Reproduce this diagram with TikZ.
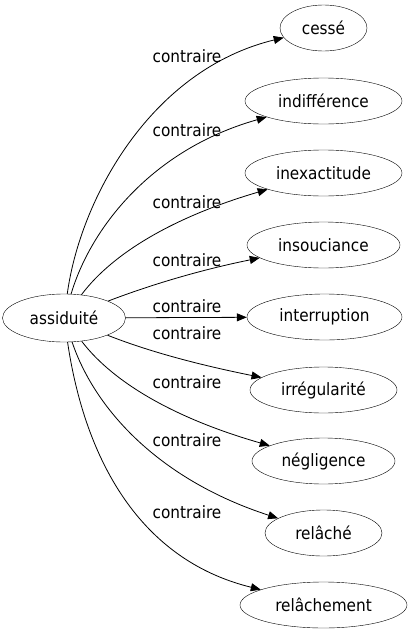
\documentclass[tikz,border=0pt]{standalone}
\usepackage{fontspec}
\setmainfont{DejaVu Sans Condensed}
\usetikzlibrary{arrows.meta,shapes.geometric}
\begin{document}
\begin{tikzpicture}[x=1pt,y=-1pt,
  nd/.style={draw,ellipse,inner sep=0pt,minimum height=46pt,font=\fontsize{17}{20}\selectfont},
  lab/.style={font=\fontsize{17}{20}\selectfont,inner sep=0pt},
  edge/.style={-{Triangle[length=10pt,width=8pt]},line width=0.8pt}]
\useasboundingbox (0,0) rectangle (412,635);
\node[nd,minimum width=123pt,minimum height=48pt] (a) at (64,318) {assiduité};
\node[nd,minimum width=87pt] (t1) at (323.5,28) {cessé};
\node[nd,minimum width=157pt] (t2) at (323.5,101) {indifférence};
\node[nd,minimum width=157pt] (t3) at (323.5,173) {inexactitude};
\node[nd,minimum width=153pt] (t4) at (323.5,245) {insouciance};
\node[nd,minimum width=155pt] (t5) at (324.5,317) {interruption};
\node[nd,minimum width=147pt] (t6) at (323.5,390) {irrégularité};
\node[nd,minimum width=143pt] (t7) at (323.5,461) {négligence};
\node[nd,minimum width=117pt] (t8) at (323.5,533) {relâché};
\node[nd,minimum width=167pt] (t9) at (323.5,605) {relâchement};
\draw[edge] (a) .. controls (80,200) and (150,70) .. (t1);
\draw[edge] (a) .. controls (90,230) and (150,150) .. (t2);
\draw[edge] (a) .. controls (115,250) and (180,215) .. (t3);
\draw[edge] (a) .. controls (150,285) and (200,270) .. (t4);
\draw[edge] (a) -- (t5);
\draw[edge] (a) .. controls (150,352) and (200,365) .. (t6);
\draw[edge] (a) .. controls (115,385) and (180,420) .. (t7);
\draw[edge] (a) .. controls (95,410) and (160,480) .. (t8);
\draw[edge] (a) .. controls (85,460) and (140,560) .. (t9);
\node[lab] (l1) at (187,56) {contraire};
\node[lab] (l2) at (187,130) {contraire};
\node[lab] (l3) at (187,202) {contraire};
\node[lab] (l4) at (187,260) {contraire};
\node[lab] (l5) at (187,306) {contraire};
\node[lab] (l6) at (187,333) {contraire};
\node[lab] (l7) at (187,382) {contraire};
\node[lab] (l8) at (187,440) {contraire};
\node[lab] (l9) at (187,512) {contraire};
\end{tikzpicture}
\end{document}
